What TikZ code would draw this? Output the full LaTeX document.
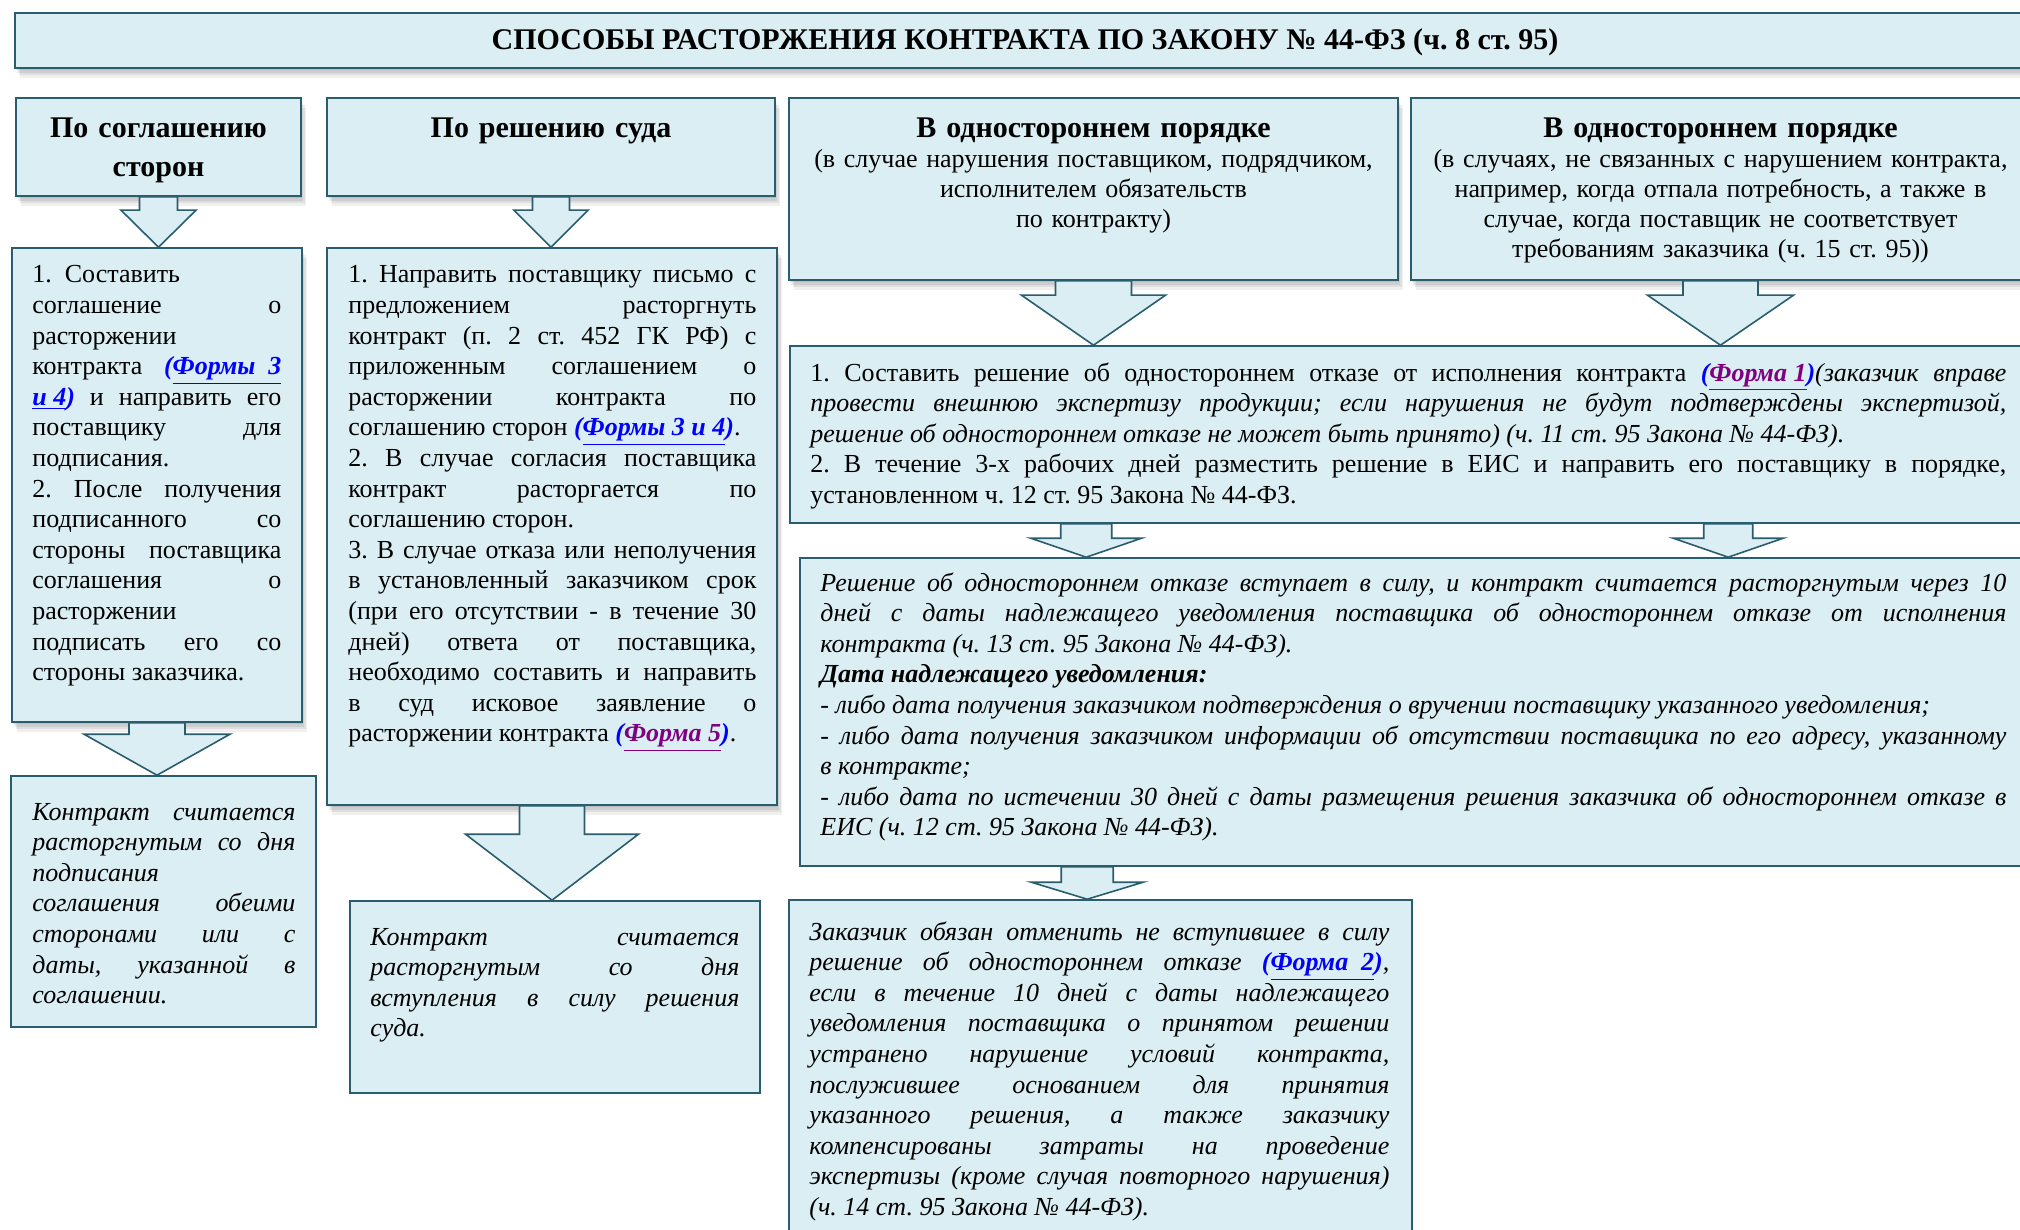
\documentclass[tikz,border=0pt]{standalone}
\usepackage{fontspec}
\setmainfont{Liberation Serif}
\usetikzlibrary{calc,fit}
\definecolor{bfill}{HTML}{DAEEF3}
\definecolor{bline}{HTML}{2A5D6E}
\definecolor{lblue}{HTML}{0000FF}
\definecolor{lpurp}{HTML}{800080}
\frenchspacing
\newcommand\jl[1]{\hbox to\hsize{\spaceskip=.25em plus 1fil\relax #1}}
\newcommand\nl[1]{\hbox{#1}}
\newcommand\para[2]{\vtop{\hsize=#1\relax #2}}
\newcommand\lnk[2]{\textbf{\textit{\textcolor{lblue}{(}\textcolor{#1}{\underline{#2}}\textcolor{lblue}{)}}}}
\newcommand\barrow[5]{%
\draw[barr] let \p1=(#1), \p2=(#2.north) in
 (\x1-#3,\y1) -- (\x1-#3,\y2+#5) -- (\x1-#4,\y2+#5) -- (\x1,\y2) -- (\x1+#4,\y2+#5) -- (\x1+#3,\y2+#5) -- (\x1+#3,\y1) -- cycle;}
\tikzset{
 box/.style={draw=bline, fill=bfill, line width=0.8pt, inner sep=0pt},
 shad/.style={
  preaction={fill=black,opacity=0.08,transform canvas={xshift=0.6pt,yshift=-1.2pt}},
  preaction={fill=black,opacity=0.08,transform canvas={xshift=1.2pt,yshift=-2.4pt}},
  preaction={fill=black,opacity=0.07,transform canvas={xshift=1.8pt,yshift=-3.6pt}},
  preaction={fill=black,opacity=0.06,transform canvas={xshift=2.4pt,yshift=-4.8pt}}},
 barr/.style={draw=bline, fill=bfill, line width=0.8pt, line join=miter},
 body/.style={anchor=base west, inner sep=0pt, font=\fontsize{13}{15.3}\selectfont\frenchspacing},
 ibody/.style={body, font=\fontsize{13}{15.3}\selectfont\frenchspacing\itshape},
 hdr/.style={anchor=base, inner sep=0pt, align=center, text width=#1, font=\fontsize{15}{19.5}\selectfont\bfseries},
 sub/.style={anchor=base, inner sep=0pt, align=center, text width=#1, font=\fontsize{13}{15}\selectfont\frenchspacing},
}
\begin{document}
\begin{tikzpicture}[x=0.5pt,y=-0.5pt]
\useasboundingbox[fill=white] (0,0) rectangle (2020,1230);
% boxes
\node[box,shad,line width=1.2pt,fit={(15,13)(2035,68)}] (title) {};
\node[box,shad,fit={(16,98)(301,196)}] (hA) {};
\node[box,shad,fit={(327,98)(775,196)}] (hB) {};
\node[box,shad,fit={(789,98)(1398,280)}] (hC) {};
\node[box,shad,fit={(1411,98)(2030,280)}] (hD) {};
\node[box,shad,fit={(12,248)(302,722)}] (bA) {};
\node[box,shad,fit={(327,248)(777,805)}] (bB) {};
\node[box,fit={(790,346)(2030,523)}] (C1) {};
\node[box,fit={(800,558)(2030,866)}] (C2) {};
\node[box,fit={(789,900)(1412,1240)}] (C3) {};
\node[box,fit={(11,776)(316,1027)}] (rA) {};
\node[box,fit={(350,901)(760,1093)}] (rB) {};
% block arrows
\barrow{hA.south}{bA}{9.5pt}{18.75pt}{18.5pt}
\barrow{hB.south}{bB}{9.25pt}{18.5pt}{18.5pt}
\barrow{hC.south}{C1}{19pt}{36pt}{25pt}
\barrow{hD.south}{C1}{18.75pt}{36.5pt}{25pt}
\barrow{bA.south}{rA}{14pt}{36.5pt}{20.5pt}
\barrow{bB.south}{rB}{16.25pt}{43.25pt}{33pt}
\coordinate (c1l) at ($(C1.south west)+(297,0)$);
\coordinate (c1r) at ($(C1.south west)+(939,0)$);
\coordinate (c2a) at ($(C2.south west)+(288,0)$);
\barrow{c1l}{C2}{12.75pt}{27.75pt}{9.5pt}
\barrow{c1r}{C2}{12.25pt}{27.5pt}{9.5pt}
\barrow{c2a}{C3}{13pt}{28pt}{8.5pt}
% texts
\node[anchor=base, inner sep=0pt, font=\fontsize{15}{18}\selectfont\bfseries] (tT) at (1025,50) {СПОСОБЫ РАСТОРЖЕНИЯ КОНТРАКТА ПО ЗАКОНУ № 44-ФЗ (ч. 8 ст. 95)};
\node[hdr=140pt] (tA) at (158.5,138) {По соглашению\\сторон};
\node[hdr=220pt] (tB) at (551,138) {По решению суда};
\node[hdr=300pt] (tC) at (1093.5,138) {В одностороннем порядке};
\node[sub=320pt] (sC) at (1093.5,168) {(в случае нарушения поставщиком, подрядчиком,\\исполнителем обязательств\\по контракту)};
\node[hdr=300pt] (tD) at (1720.5,138) {В одностороннем порядке};
\node[sub=320pt] (sD) at (1720.5,168) {(в случаях, не связанных с нарушением контракта,\\например, когда отпала потребность, а также в\\случае, когда поставщик не соответствует\\требованиям заказчика (ч. 15 ст. 95))};
\node[body] (xA) at (32,283) {\para{124.5pt}{%
\nl{1.~~Составить}
\jl{соглашение о}
\nl{расторжении}
\jl{контракта \textbf{\textit{\textcolor{lblue}{(\underline{Формы\ \ 3}}}}}
\jl{\textbf{\textit{\textcolor{lblue}{\underline{и 4})}}} и направить его}
\jl{поставщику для}
\nl{подписания.}
\jl{2. После получения}
\jl{подписанного со}
\jl{стороны поставщика}
\jl{соглашения о}
\nl{расторжении}
\jl{подписать его со}
\nl{стороны заказчика.}}};
\node[body] (xB) at (348,283) {\para{204pt}{%
\jl{1. Направить поставщику письмо с}
\jl{предложением расторгнуть}
\jl{контракт (п. 2 ст. 452 ГК РФ) с}
\jl{приложенным соглашением о}
\jl{расторжении контракта по}
\nl{соглашению сторон \lnk{lblue}{Формы 3 и 4}.}
\jl{2. В случае согласия поставщика}
\jl{контракт расторгается по}
\nl{соглашению сторон.}
\jl{3. В случае отказа или неполучения}
\jl{в установленный заказчиком срок}
\jl{(при его отсутствии - в течение 30}
\jl{дней) ответа от поставщика,}
\jl{необходимо составить и направить}
\jl{в суд исковое заявление о}
\nl{расторжении контракта \lnk{lpurp}{Форма 5}.}}};
\node[body] (xC1) at (810,381) {\para{598pt}{%
\jl{1. Составить решение об одностороннем отказе от исполнения контракта \lnk{lpurp}{Форма 1}\textit{(заказчик вправе}}
\jl{\itshape провести внешнюю экспертизу продукции; если нарушения не будут подтверждены экспертизой,}
\nl{\itshape решение об одностороннем отказе не может быть принято) (ч. 11 ст. 95 Закона № 44-ФЗ).}
\jl{2. В течение 3-х рабочих дней разместить решение в ЕИС и направить его поставщику в порядке,}
\nl{установленном ч. 12 ст. 95 Закона № 44-ФЗ.}}};
\node[ibody] (xC2) at (820,591) {\para{593pt}{%
\jl{Решение об одностороннем отказе вступает в силу, и контракт считается расторгнутым через 10}
\jl{дней с даты надлежащего уведомления поставщика об одностороннем отказе от исполнения}
\nl{контракта (ч. 13 ст. 95 Закона № 44-ФЗ).}
\nl{\bfseries Дата надлежащего уведомления:}
\nl{- либо дата получения заказчиком подтверждения о вручении поставщику указанного уведомления;}
\jl{- либо дата получения заказчиком информации об отсутствии поставщика по его адресу, указанному}
\nl{в контракте;}
\jl{- либо дата по истечении 30 дней с даты размещения решения заказчика об одностороннем отказе в}
\nl{ЕИС (ч. 12 ст. 95 Закона № 44-ФЗ).}}};
\node[ibody] (xC3) at (809,940) {\para{290pt}{%
\jl{Заказчик обязан отменить не вступившее в силу}
\jl{решение об одностороннем отказе \lnk{lblue}{Форма\ \ 2},}
\jl{если в течение 10 дней с даты надлежащего}
\jl{уведомления поставщика о принятом решении}
\jl{устранено нарушение условий контракта,}
\jl{послужившее основанием для принятия}
\jl{указанного решения, а также заказчику}
\jl{компенсированы затраты на проведение}
\jl{экспертизы (кроме случая повторного нарушения)}
\nl{(ч. 14 ст. 95 Закона № 44-ФЗ).}}};
\node[ibody] (xA2) at (32,820) {\para{131.5pt}{%
\jl{Контракт считается}
\jl{расторгнутым со дня}
\nl{подписания}
\jl{соглашения обеими}
\jl{сторонами или с}
\jl{даты, указанной в}
\nl{соглашении.}}};
\node[ibody] (xB2) at (370,945) {\para{184.5pt}{%
\jl{Контракт считается}
\jl{расторгнутым со дня}
\jl{вступления в силу решения}
\nl{суда.}}};
\end{tikzpicture}
\end{document}
